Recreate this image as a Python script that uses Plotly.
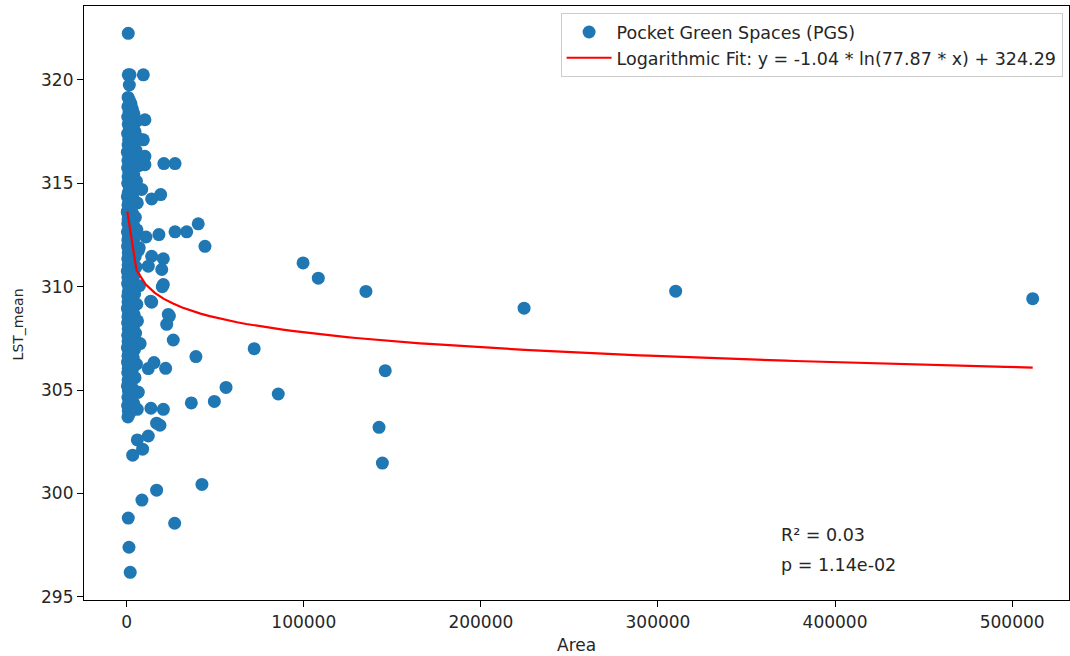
import numpy as np
import plotly.graph_objects as go

# Outlying / clearly readable points (Area, LST_mean)
area_outer = [511600, 310000, 224400, 135100, 108200, 99600, 146000, 142500, 144400,
              85600, 72000, 56100, 49500, 36500, 39100, 42500, 27100, 44200, 40400,
              33900, 27300, 27300, 21000, 19200, 14100, 18200, 14100, 24100, 22600,
              26300, 12200, 15400, 22000, 13700, 20700, 16900, 18800, 12200, 6000,
              9000, 3400, 16900, 8600, 900, 1300, 2000, 900, 900, 1900, 9400, 1500,
              10300, 9400, 10300, 10300, 8500, 10900, 7100, 14100, 20700, 12200,
              19800, 20700, 20100, 13600, 23500, 6000, 6500, 363]
lst_outer = [309.42, 309.78, 308.96, 309.77, 310.41, 311.15, 305.94, 303.20, 301.47,
             304.81, 307.00, 305.13, 304.45, 304.38, 306.62, 300.44, 298.56, 311.95, 313.04,
             312.65, 312.65, 315.95, 315.95, 314.45, 314.24, 312.52, 309.25, 308.58, 308.18,
             307.42, 306.04, 306.33, 306.05, 304.12, 304.07, 303.40, 303.30, 302.78, 302.59,
             302.14, 301.85, 300.16, 299.68, 298.81, 297.40, 296.19, 322.25, 320.24, 320.24, 320.24, 319.75,
             318.07, 317.10, 316.30, 315.90, 314.70, 312.40, 311.88, 311.47, 311.35, 310.99,
             310.83, 310.10, 310.00, 309.30, 308.66, 304.07, 304.90, 313.60]

# Dense column of small spaces near Area = 0
area_dense = [800, 1600, 2400, 700, 3200, 1300, 4100, 600, 2200, 5600, 900, 3000, 1700, 4700,
              500, 2500, 6200, 1100, 3600, 800, 2000, 5200, 400, 2900, 1400, 4400, 700, 3400,
              1900, 6800, 500, 2700, 1200, 4000, 800, 2300, 5500, 600, 3100, 1500, 4600, 900,
              2100, 400, 3700, 1300, 6000, 700, 2600, 1800, 500, 3300, 1100, 4900, 800, 2400,
              600, 3900, 1600, 5800, 400, 2800, 1000, 4300, 700, 2000, 3500, 500, 1400, 6600,
              900, 2900, 4800, 600, 1700, 3200, 800, 5300, 1200, 400, 2500, 4100, 700, 1900,
              3600, 500, 7200, 1300, 2700, 900, 4500, 600, 2100, 3400, 800, 5700, 1500, 400,
              3000, 1100, 4200, 700, 2300, 6100, 500, 1800, 3800, 900, 2600, 5000, 600, 1400,
              3300, 800, 7600, 2000, 400, 4400, 1200, 2800, 700, 3700, 1600, 500, 5500, 2200,
              900, 3100, 600, 1300, 4700, 800, 2500, 1700, 400, 3500, 1000, 6300, 2000, 700,
              2900, 1400, 4000, 500, 2300, 900, 1800, 700]
lst_dense = [319.15, 319.00, 318.85, 318.70, 318.60, 318.45, 318.35, 318.20, 318.10, 318.00,
             317.85, 317.75, 317.60, 317.50, 317.40, 317.30, 317.20, 317.10, 316.95, 316.85,
             316.75, 316.60, 316.50, 316.40, 316.30, 316.20, 316.10, 316.00, 315.90, 315.85,
             315.75, 315.60, 315.50, 315.40, 315.30, 315.20, 315.10, 315.00, 314.90, 314.80,
             314.65, 314.55, 314.45, 314.35, 314.25, 314.15, 314.05, 313.95, 313.85, 313.75,
             313.65, 313.55, 313.45, 313.35, 313.25, 313.15, 313.05, 312.95, 312.85, 312.75,
             312.65, 312.55, 312.45, 312.35, 312.25, 312.15, 312.05, 311.95, 311.85, 311.75,
             311.65, 311.55, 311.45, 311.35, 311.25, 311.15, 311.05, 310.95, 310.85, 310.75,
             310.65, 310.55, 310.45, 310.35, 310.25, 310.15, 310.05, 309.95, 309.85, 309.75,
             309.65, 309.55, 309.45, 309.35, 309.25, 309.15, 309.05, 308.95, 308.85, 308.75,
             308.65, 308.55, 308.45, 308.35, 308.25, 308.15, 308.05, 307.95, 307.85, 307.75,
             307.65, 307.55, 307.45, 307.35, 307.25, 307.15, 307.05, 306.95, 306.85, 306.75,
             306.65, 306.55, 306.45, 306.35, 306.25, 306.15, 306.05, 305.95, 305.85, 305.75,
             305.60, 305.50, 305.40, 305.30, 305.20, 305.05, 304.95, 304.90, 304.80, 304.65,
             304.55, 304.45, 304.35, 304.25, 304.10, 304.00, 303.90, 303.70]

# Logarithmic fit parameters (from legend)
fit_a = -1.04
fit_b = 77.87
fit_c = 324.29
r_squared_text = "R² = 0.03"
p_value_text = "p = 1.14e-02"

x_ticks = [0, 100000, 200000, 300000, 400000, 500000]
y_ticks = [295, 300, 305, 310, 315, 320]

area = area_outer + area_dense
lst = lst_outer + lst_dense

x_fit = np.linspace(min(area), max(area), 100)
y_fit = fit_a * np.log(fit_b * x_fit) + fit_c

FONT = "DejaVu Sans"
TXT = "#262626"

fig = go.Figure()
fig.add_trace(go.Scatter(
    x=area, y=lst, mode="markers", name="Pocket Green Spaces (PGS)",
    marker=dict(color="#1f77b4", size=13, line=dict(width=0)),
))
fig.add_trace(go.Scatter(
    x=x_fit, y=y_fit, mode="lines",
    name=f"Logarithmic Fit: y = {fit_a:.2f} * ln({fit_b:.2f} * x) + {fit_c:.2f}",
    line=dict(color="red", width=2.2),
))

axis_common = dict(
    showline=True, linecolor="black", linewidth=1.2, mirror=True,
    ticks="outside", ticklen=6, tickwidth=1.2, tickcolor="black",
    showgrid=False, zeroline=False, automargin=False,
    tickfont=dict(family=FONT, size=17, color=TXT),
)

fig.update_layout(
    width=1070, height=656,
    margin=dict(l=84, r=1, t=6, b=56),
    paper_bgcolor="white", plot_bgcolor="white",
    font=dict(family=FONT, size=17, color=TXT),
    xaxis=dict(range=[-24100, 532100], tickvals=x_ticks, tickformat="d", **axis_common),
    yaxis=dict(range=[294.85, 323.57], tickvals=y_ticks, **axis_common),
    legend=dict(x=0.9935, y=0.988, xanchor="right", yanchor="top",
                itemwidth=45,
                bgcolor="rgba(255,255,255,0.8)", bordercolor="#cccccc", borderwidth=1,
                font=dict(family=FONT, size=17.5, color=TXT)),
    showlegend=True,
)

# Axis titles
fig.add_annotation(x=0.5, y=-0.0758, xref="paper", yref="paper", text="Area",
                   showarrow=False, xanchor="center", yanchor="middle",
                   font=dict(family=FONT, size=17, color=TXT))
fig.add_annotation(x=-0.0670, y=0.464, xref="paper", yref="paper", text="LST_mean",
                   textangle=-90, showarrow=False, xanchor="center", yanchor="middle",
                   font=dict(family=FONT, size=14, color=TXT))

fig.add_annotation(x=0.7056, y=0.109, xref="paper", yref="paper", text=r_squared_text,
                   showarrow=False, xanchor="left", yanchor="middle",
                   font=dict(family=FONT, size=17.5, color=TXT))
fig.add_annotation(x=0.7056, y=0.059, xref="paper", yref="paper", text=p_value_text,
                   showarrow=False, xanchor="left", yanchor="middle",
                   font=dict(family=FONT, size=17.5, color=TXT))

fig.write_html("out.html", config={"displayModeBar": False},
               post_script="document.body.style.margin='0px';")
